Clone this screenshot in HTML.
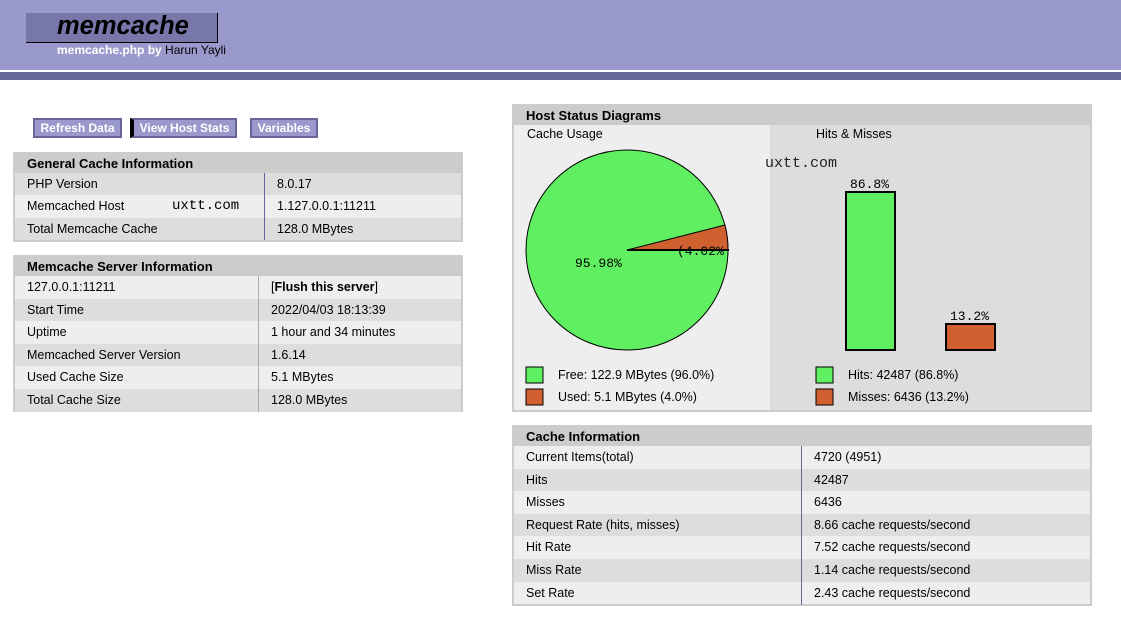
<!DOCTYPE html>
<html><head><meta charset="utf-8"><style>
*{margin:0;padding:0;box-sizing:border-box}
body{width:1121px;height:620px;background:#fff;font-family:"Liberation Sans",Arial,sans-serif;font-size:12px;color:#000;position:relative;overflow:hidden}
.a{position:absolute}
.btn{position:absolute;top:118px;height:20px;background:#9999cc;border:2px solid #666699;color:#fff;font-weight:bold;font-size:12px;line-height:16px;text-align:center}
.tbl{position:absolute;border:2px solid #ccc;background:#ccc}
.tbl .h{height:19px;line-height:19px;font-weight:bold;font-size:13px;padding-left:12px;background:#ccc}
.tbl .r{position:relative;font-size:12.5px;padding-left:12px}
.tbl .r span{position:absolute;top:0}
.d{background:#ddd}.e{background:#eee}
.div{position:absolute;width:1px;background:#666699}
.mono{font-family:"Liberation Mono",monospace}
</style></head><body>
<div class="a" style="left:0;top:0;width:1121px;height:70px;background:#9999cc"></div>
<div class="a" style="left:0;top:72px;width:1121px;height:8px;background:#666699"></div>
<div class="a" style="left:26px;top:13px;width:192px;height:30px;background:#7777aa;border-right:1px solid #000;border-bottom:1px solid #000"></div>
<div class="a" style="left:57px;top:12px;font-size:25.5px;font-weight:bold;font-style:italic;color:#000">memcache</div>
<div class="a" style="left:57px;top:43px;font-size:12px;font-weight:bold;color:#fff">memcache.php by <span style="color:#000;font-weight:normal">Harun Yayli</span></div>

<div class="btn" style="left:33px;width:89px">Refresh Data</div>
<div class="btn" style="left:130px;width:107px;border-left:4px solid #000">View Host Stats</div>
<div class="btn" style="left:250px;width:68px">Variables</div>

<div class="tbl" style="left:13px;top:152px;width:450px;height:90px">
<div class="h">General Cache Information</div>
<div class="r d" style="height:22px;line-height:22px">PHP Version<span style="left:262px">8.0.17</span></div>
<div class="r e" style="height:23px;line-height:23px">Memcached Host<span class="mono" style="left:157px;font-size:14px">uxtt.com</span><span style="left:262px">1.127.0.0.1:11211</span></div>
<div class="r d" style="height:22px;line-height:22px">Total Memcache Cache<span style="left:262px">128.0 MBytes</span></div>
<div class="div" style="left:249px;top:19px;height:67px"></div>
</div>

<div class="tbl" style="left:13px;top:255px;width:450px;height:157px">
<div class="h">Memcache Server Information</div>
<div class="r e" style="height:22.6px;line-height:22px">127.0.0.1:11211<span style="left:256px">[<b>Flush this server</b>]</span></div>
<div class="r d" style="height:22.6px;line-height:22px">Start Time<span style="left:256px">2022/04/03 18:13:39</span></div>
<div class="r e" style="height:22.6px;line-height:22px">Uptime<span style="left:256px">1 hour and 34 minutes</span></div>
<div class="r d" style="height:22.6px;line-height:22px">Memcached Server Version<span style="left:256px">1.6.14</span></div>
<div class="r e" style="height:22.6px;line-height:22px">Used Cache Size<span style="left:256px">5.1 MBytes</span></div>
<div class="r d" style="height:22.6px;line-height:22px">Total Cache Size<span style="left:256px">128.0 MBytes</span></div>
<div class="div" style="left:243px;top:19px;height:136px;background:#aaa"></div>
</div>

<div class="tbl" style="left:512px;top:104px;width:580px;height:308px">
<div class="h">Host Status Diagrams</div>
<div class="a" style="left:0;top:19px;width:256px;height:285px;background:#eee"></div>
<div class="a" style="left:256px;top:19px;width:320px;height:285px;background:#ddd"></div>
<div class="a" style="left:13px;top:21px;font-size:12.5px">Cache Usage</div>
<div class="a" style="left:302px;top:21px;font-size:12.5px">Hits &amp; Misses</div>
</div>
<svg class="a" style="left:0;top:0" width="1121" height="620">
<ellipse cx="627" cy="250" rx="101" ry="100" fill="#60ef60" stroke="#000" stroke-width="1"/>
<path d="M627,250 L725,225 A101,100 0 0 1 728,250 Z" fill="#d06030" stroke="#000"/>
<line x1="627" y1="250" x2="729" y2="250" stroke="#000" stroke-width="2"/>
<text x="575" y="267" font-family="Liberation Mono,monospace" font-size="13">95.98%</text>
<text x="677" y="255" font-family="Liberation Mono,monospace" font-size="13">(4.02%</text>
<text x="765" y="167" font-family="Liberation Mono,monospace" font-size="15" fill="#222">uxtt.com</text>
<rect x="846" y="192" width="49" height="158" fill="#60ef60" stroke="#000" stroke-width="2"/>
<rect x="946" y="324" width="49" height="26" fill="#d06030" stroke="#000" stroke-width="2"/>
<text x="850" y="188" font-family="Liberation Mono,monospace" font-size="13">86.8%</text>
<text x="950" y="320" font-family="Liberation Mono,monospace" font-size="13">13.2%</text>
<rect x="526" y="367" width="17" height="16" fill="#60ef60" stroke="#000"/>
<rect x="526" y="389" width="17" height="16" fill="#d06030" stroke="#000"/>
<rect x="816" y="367" width="17" height="16" fill="#60ef60" stroke="#000"/>
<rect x="816" y="389" width="17" height="16" fill="#d06030" stroke="#000"/>
<g font-family="Liberation Sans,Arial,sans-serif" font-size="12.5">
<text x="558" y="379">Free: 122.9 MBytes (96.0%)</text>
<text x="558" y="401">Used: 5.1 MBytes (4.0%)</text>
<text x="848" y="379">Hits: 42487 (86.8%)</text>
<text x="848" y="401">Misses: 6436 (13.2%)</text>
</g>
</svg>

<div class="tbl" style="left:512px;top:425px;width:580px;height:181px">
<div class="h">Cache Information</div>
<div class="r e" style="height:22.6px;line-height:22px">Current Items(total)<span style="left:300px">4720 (4951)</span></div>
<div class="r d" style="height:22.6px;line-height:22px">Hits<span style="left:300px">42487</span></div>
<div class="r e" style="height:22.6px;line-height:22px">Misses<span style="left:300px">6436</span></div>
<div class="r d" style="height:22.6px;line-height:22px">Request Rate (hits, misses)<span style="left:300px">8.66 cache requests/second</span></div>
<div class="r e" style="height:22.6px;line-height:22px">Hit Rate<span style="left:300px">7.52 cache requests/second</span></div>
<div class="r d" style="height:22.6px;line-height:22px">Miss Rate<span style="left:300px">1.14 cache requests/second</span></div>
<div class="r e" style="height:22.6px;line-height:22px">Set Rate<span style="left:300px">2.43 cache requests/second</span></div>
<div class="div" style="left:287px;top:19px;height:159px"></div>
</div>
</body></html>
